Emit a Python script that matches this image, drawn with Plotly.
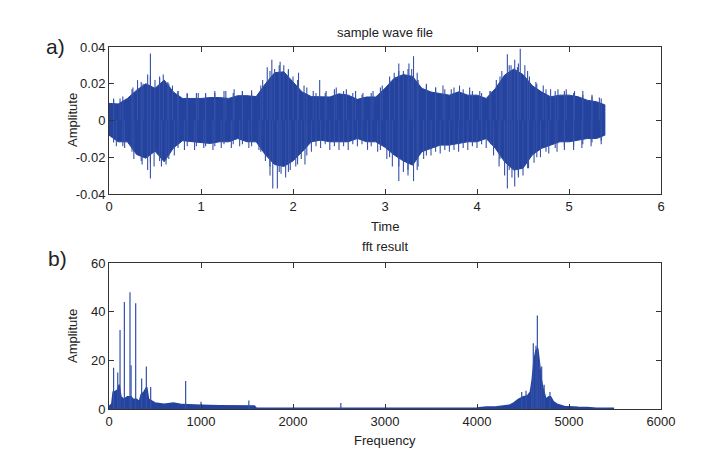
import plotly.graph_objects as go

# ---------------- data ----------------
# waveform envelope (dense core), seconds / amplitude
wave_t = [0.0, 0.1, 0.2, 0.3, 0.4, 0.5, 0.6, 0.7, 0.8, 0.9,
          1.0, 1.1, 1.2, 1.3, 1.4, 1.5, 1.6, 1.7, 1.8, 1.9,
          2.0, 2.1, 2.2, 2.3, 2.4, 2.5, 2.6, 2.7, 2.8, 2.9,
          3.0, 3.1, 3.2, 3.3, 3.4, 3.5, 3.6, 3.7, 3.8, 3.9,
          4.0, 4.1, 4.2, 4.3, 4.4, 4.5, 4.6, 4.7, 4.8, 4.9,
          5.0, 5.1, 5.2, 5.3, 5.39]
wave_hi = [0.0093, 0.009, 0.012, 0.0165, 0.020, 0.0175, 0.022, 0.0155, 0.012, 0.012,
           0.012, 0.0125, 0.0125, 0.012, 0.0135, 0.0135, 0.013, 0.020, 0.026, 0.0265,
           0.021, 0.0155, 0.013, 0.0128, 0.0128, 0.0145, 0.0138, 0.0115, 0.0128, 0.0128,
           0.0175, 0.023, 0.025, 0.024, 0.0175, 0.0155, 0.0147, 0.0138, 0.0156, 0.0138,
           0.0138, 0.012, 0.0174, 0.0247, 0.028, 0.025, 0.019, 0.0156, 0.0129, 0.0138,
           0.0138, 0.0129, 0.011, 0.0102, 0.0085]
wave_lo = [-0.008, -0.0116, -0.0116, -0.0185, -0.0205, -0.0167, -0.0225, -0.015, -0.011, -0.0116,
           -0.012, -0.0125, -0.0116, -0.0116, -0.0098, -0.0116, -0.0116, -0.0187, -0.024, -0.025,
           -0.022, -0.017, -0.0116, -0.0107, -0.0116, -0.0116, -0.0116, -0.0098, -0.0116, -0.0116,
           -0.0146, -0.0188, -0.022, -0.0243, -0.017, -0.0152, -0.0134, -0.0134, -0.0125, -0.0116,
           -0.0116, -0.0098, -0.0152, -0.0225, -0.027, -0.026, -0.0188, -0.0152, -0.0134, -0.0116,
           -0.0116, -0.0107, -0.0098, -0.0098, -0.008]

# isolated positive / negative peaks of the waveform
up_t = [0.05, 0.12, 0.26, 0.31, 0.37, 0.42, 0.45, 0.50, 0.55, 0.59, 0.64, 0.69, 0.75,
        0.85, 0.97, 1.05, 1.15, 1.27, 1.36, 1.45, 1.55, 1.67, 1.72, 1.77, 1.80, 1.86,
        1.90, 1.95, 2.00, 2.06, 2.12, 2.22, 2.29, 2.36, 2.47, 2.58, 2.68, 2.76, 2.87,
        2.97, 3.05, 3.10, 3.15, 3.20, 3.26, 3.29, 3.31, 3.36, 3.45, 3.55, 3.63, 3.72,
        3.81, 3.92, 4.03, 4.14, 4.21, 4.27, 4.33, 4.37, 4.41, 4.44, 4.47, 4.52, 4.57,
        4.64, 4.72, 4.80, 4.88, 4.97, 5.06, 5.15, 5.25, 5.33]
up_v = [0.011, 0.012, 0.018, 0.022, 0.020, 0.025, 0.0365, 0.022, 0.024, 0.025, 0.021, 0.019, 0.016,
        0.0145, 0.015, 0.015, 0.016, 0.016, 0.017, 0.016, 0.0165, 0.022, 0.029, 0.033, 0.028, 0.032,
        0.030, 0.027, 0.024, 0.026, 0.019, 0.016, 0.022, 0.016, 0.018, 0.017, 0.016, 0.015, 0.016,
        0.019, 0.022, 0.026, 0.031, 0.027, 0.031, 0.028, 0.035, 0.022, 0.020, 0.018, 0.019, 0.017,
        0.019, 0.018, 0.016, 0.016, 0.022, 0.027, 0.036, 0.030, 0.033, 0.029, 0.039, 0.030, 0.024,
        0.021, 0.019, 0.017, 0.017, 0.017, 0.016, 0.016, 0.014, 0.0125]
down_t = [0.08, 0.17, 0.27, 0.36, 0.42, 0.45, 0.49, 0.57, 0.62, 0.71, 0.82, 0.93, 1.03,
          1.13, 1.22, 1.33, 1.42, 1.52, 1.63, 1.70, 1.75, 1.78, 1.83, 1.87, 1.92, 1.97,
          2.03, 2.09, 2.13, 2.20, 2.30, 2.40, 2.50, 2.60, 2.70, 2.81, 2.92, 3.02, 3.08,
          3.15, 3.20, 3.25, 3.31, 3.36, 3.42, 3.50, 3.60, 3.70, 3.80, 3.90, 4.00, 4.10,
          4.18, 4.24, 4.30, 4.33, 4.38, 4.41, 4.45, 4.50, 4.56, 4.62, 4.69, 4.78, 4.87,
          4.95, 5.05, 5.14, 5.24, 5.35]
down_v = [-0.014, -0.015, -0.021, -0.024, -0.027, -0.0316, -0.025, -0.025, -0.024, -0.019, -0.016, -0.016, -0.015,
          -0.016, -0.015, -0.015, -0.014, -0.015, -0.016, -0.022, -0.030, -0.037, -0.037, -0.029, -0.031, -0.027,
          -0.025, -0.021, -0.024, -0.017, -0.015, -0.016, -0.016, -0.016, -0.014, -0.016, -0.017, -0.021, -0.025,
          -0.033, -0.028, -0.030, -0.033, -0.025, -0.021, -0.019, -0.018, -0.017, -0.017, -0.016, -0.015, -0.015,
          -0.019, -0.025, -0.030, -0.037, -0.031, -0.036, -0.031, -0.030, -0.026, -0.023, -0.020, -0.018, -0.017,
          -0.016, -0.016, -0.015, -0.014, -0.013]

# smaller excursions that make the fuzzy edge of the waveform
minor_t = [0.05, 0.15, 0.25, 0.35, 0.45, 0.55, 0.65, 0.75, 0.85, 0.95,
           1.05, 1.15, 1.25, 1.35, 1.45, 1.55, 1.65, 1.75, 1.85, 1.95,
           2.05, 2.15, 2.25, 2.35, 2.45, 2.55, 2.65, 2.75, 2.85, 2.95,
           3.05, 3.15, 3.25, 3.35, 3.45, 3.55, 3.65, 3.75, 3.85, 3.95,
           4.05, 4.15, 4.25, 4.35, 4.45, 4.55, 4.65, 4.75, 4.85, 4.95,
           5.05, 5.15, 5.25, 5.35]
minor_up = [0.012, 0.013, 0.017, 0.021, 0.024, 0.023, 0.020, 0.016, 0.015, 0.015,
            0.014, 0.015, 0.016, 0.015, 0.016, 0.015, 0.019, 0.027, 0.030, 0.028,
            0.022, 0.018, 0.015, 0.015, 0.017, 0.016, 0.015, 0.014, 0.015, 0.018,
            0.024, 0.027, 0.028, 0.026, 0.019, 0.018, 0.017, 0.018, 0.017, 0.016,
            0.015, 0.016, 0.024, 0.030, 0.031, 0.027, 0.020, 0.017, 0.016, 0.016,
            0.015, 0.014, 0.013, 0.012]
minor_down = [-0.012, -0.014, -0.017, -0.022, -0.023, -0.022, -0.021, -0.015, -0.014, -0.014,
              -0.014, -0.014, -0.013, -0.013, -0.013, -0.014, -0.017, -0.025, -0.028, -0.028,
              -0.024, -0.019, -0.014, -0.013, -0.014, -0.014, -0.013, -0.013, -0.014, -0.016,
              -0.020, -0.025, -0.027, -0.027, -0.019, -0.017, -0.016, -0.016, -0.015, -0.014,
              -0.013, -0.013, -0.021, -0.027, -0.030, -0.026, -0.020, -0.017, -0.015, -0.014,
              -0.014, -0.013, -0.012, -0.011]

# FFT magnitude floor (Hz / amplitude)
fft_f = [0, 30, 45, 60, 100, 110, 130, 160, 200, 240, 260, 300, 330, 350, 380, 410, 430, 470,
         500, 600, 700, 800, 900, 1000, 1200, 1400, 1580, 1600, 2000, 3000, 4000, 4100, 4200,
         4300, 4350, 4400, 4450, 4500, 4550, 4580, 4600, 4620, 4640, 4660, 4680, 4700, 4720,
         4750, 4780, 4800, 4830, 4870, 4950, 5000, 5100, 5200, 5300, 5490]
fft_a = [1, 2, 7, 7, 8, 10, 5, 4, 5, 5, 4, 4, 3, 6, 7, 9, 4, 3,
         2.5, 2, 2.5, 1.8, 1.5, 1.5, 1.3, 1.2, 1.2, 0.4, 0.3, 0.3, 0.4, 0.8, 0.8,
         1.2, 1.5, 2.5, 4, 5, 5.5, 7, 12, 20, 24, 25, 17, 12, 8,
         4, 5, 5, 3, 2, 1, 1, 0.7, 0.6, 0.3, 0.3]
# FFT isolated peaks
peak_f = [50, 95, 120, 167, 228, 240, 290, 355, 406, 453, 833, 1000, 1520, 2520,
          4486, 4533, 4594, 4612, 4641, 4656, 4678, 4703, 4730, 4793]
peak_a = [17, 15, 32.5, 44, 48, 18, 43.5, 12.5, 17.5, 9, 11.5, 3, 3.5, 2.5,
          7, 7.5, 10, 27, 26, 38.5, 19.5, 17.5, 10, 7]

wave_ticks = [-0.04, -0.02, 0, 0.02, 0.04]
wave_ticktext = ["-0.04", "-0.02", "0", "0.02", "0.04"]
time_ticks = [0, 1, 2, 3, 4, 5, 6]
freq_ticks = [0, 1000, 2000, 3000, 4000, 5000, 6000]
amp_ticks = [0, 20, 40, 60]

# ---------------- figure ----------------
BLUE = "#24439e"
SPIKE = "#3551a8"
FONT = "Liberation Sans, Arial, sans-serif"
TXT = "#222222"


def segs(xs, vs, base=0.0):
    X, Y = [], []
    for x, v in zip(xs, vs):
        X += [x, x, None]
        Y += [base, v, None]
    return X, Y


fig = go.Figure()

# waveform core
fig.add_trace(go.Scatter(
    x=wave_t + wave_t[::-1], y=wave_hi + wave_lo[::-1],
    fill="toself", fillcolor=BLUE, mode="lines",
    line=dict(color=BLUE, width=1), hoverinfo="skip", showlegend=False,
    xaxis="x", yaxis="y"))
ux, uy = segs(up_t, up_v)
dx, dy = segs(down_t, down_v)
mux, muy = segs(minor_t, minor_up)
mdx, mdy = segs(minor_t, minor_down)
fig.add_trace(go.Scatter(x=ux + dx + mux + mdx, y=uy + dy + muy + mdy, mode="lines",
                         line=dict(color=SPIKE, width=1.1), showlegend=False,
                         xaxis="x", yaxis="y"))

# FFT
fig.add_trace(go.Scatter(x=fft_f, y=fft_a, mode="lines", fill="tozeroy",
                         fillcolor=BLUE, line=dict(color=BLUE, width=1.5),
                         showlegend=False, xaxis="x2", yaxis="y2"))
px, py = segs(peak_f, peak_a)
fig.add_trace(go.Scatter(x=px, y=py, mode="lines",
                         line=dict(color=SPIKE, width=1.2), showlegend=False,
                         xaxis="x2", yaxis="y2"))

axis_common = dict(showline=True, mirror="allticks", linecolor="#333333", linewidth=1,
                   ticks="inside", ticklen=5, tickcolor="#333333", showgrid=False,
                   zeroline=False, tickfont=dict(family=FONT, size=13, color=TXT))

# page body has an 8px default margin, so the figure is offset by 8px
fig.update_layout(
    width=728, height=462,
    paper_bgcolor="white", plot_bgcolor="white",
    margin=dict(l=101, r=75, t=39, b=61),
    font=dict(family=FONT, size=13, color=TXT),
    xaxis=dict(domain=[0, 1], range=[0, 6], tickvals=time_ticks,
               ticktext=[str(v) for v in time_ticks], anchor="y", **axis_common),
    yaxis=dict(domain=[0.594, 1], range=[-0.04, 0.04], tickvals=wave_ticks,
               ticktext=wave_ticktext, anchor="x", **axis_common),
    xaxis2=dict(domain=[0, 1], range=[0, 6000], tickvals=freq_ticks,
                ticktext=[str(v) for v in freq_ticks], anchor="y2", **axis_common),
    yaxis2=dict(domain=[0, 0.403], range=[0, 60], tickvals=amp_ticks,
                ticktext=[str(v) for v in amp_ticks], anchor="x2", **axis_common),
)


def px2x(p):
    return (p - 109) / 552.0


def px2y(p):
    return (409 - p) / 362.0


ann = [
    ("sample wave file", 385, 32, 0, 13),
    ("fft result", 385, 247, 0, 13),
    ("Time", 385, 226, 0, 13),
    ("Frequency", 385, 440, 0, 13),
    ("Amplitute", 72, 120, -90, 13),
    ("Amplitute", 72, 336, -90, 13),
    ("a)", 55, 46, 0, 21),
    ("b)", 57, 258, 0, 21),
]
for text, x, y, ang, size in ann:
    fig.add_annotation(text=text, x=px2x(x), y=px2y(y), xref="paper", yref="paper",
                       showarrow=False, textangle=ang, xanchor="center", yanchor="middle",
                       font=dict(family=FONT, size=size, color=TXT))

fig.write_html("out.html")
